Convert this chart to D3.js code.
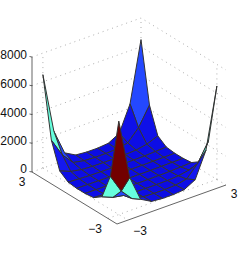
<!DOCTYPE html>
<html>
<head>
<meta charset="utf-8">
<script src="https://cdn.jsdelivr.net/npm/d3@7"></script>
<style>
  html, body {margin: 0; padding: 0; background: white;}
  svg {display: block;}
</style>
</head>
<body>
<div id="chart"></div>
<script>
// surface samples. rows = u, columns = v, both -3 .. 3
const grid_values = [-3, -2.33, -1.67, -1, -0.33, 0.33, 1, 1.67, 2.33, 3];
const z_values = [
  [6500, 2300, 520, 100, 30, 30, 100, 520, 2300, 6500],
  [2300, 1000, 210, 60, 20, 20, 60, 210, 1000, 2300],
  [520, 210, 70, 20, 10, 10, 20, 70, 210, 520],
  [100, 60, 20, 10, 0, 0, 10, 20, 60, 100],
  [30, 20, 10, 0, 0, 0, 0, 10, 20, 30],
  [30, 20, 10, 0, 0, 0, 0, 10, 20, 30],
  [100, 60, 20, 10, 0, 0, 10, 20, 60, 100],
  [520, 210, 70, 20, 10, 10, 20, 70, 210, 520],
  [2300, 1000, 210, 60, 20, 20, 60, 210, 1000, 2300],
  [6500, 2300, 520, 100, 30, 30, 100, 520, 2300, 6500]
];
const z_ticks = [0, 2000, 4000, 6000, 8000];
const color_stops = [0, 500, 1000, 2300, 6500];
const color_values = ["#0c0ce4", "#1416ee", "#2448ff", "#66ffdd", "#720000"];

const width = 249, height = 253;
const svg = d3.select("#chart").append("svg").attr("width", width).attr("height", height);

// corners of the box on the page
const left_corner = [32, 172], along_v = [109, -39], along_u = [85, 52], z_px = -115;
const u_scale = d3.scaleLinear().domain([3, -3]).range([0, 0.893]);
const v_scale = d3.scaleLinear().domain([-3, 3]).range([0.1, 1]);
const z_scale = d3.scaleLinear().domain([0, 8000]).range([0, 1]);
const color = d3.scaleLinear().domain(color_stops).range(color_values);

// a, b are box fractions
function box_point(a, b, c) {
  return [
    left_corner[0] + a * along_v[0] + b * along_u[0],
    left_corner[1] + a * along_v[1] + b * along_u[1] + c * z_px
  ];
}
function project(u, v, z) {
  return box_point(v_scale(v), u_scale(u), z_scale(z));
}

const line = d3.line();

function dotted(pts) {
  svg.append("path")
    .attr("d", line(pts))
    .attr("fill", "none")
    .attr("stroke", "#777")
    .attr("stroke-width", 0.6)
    .attr("stroke-dasharray", "1 4");
}

// back walls
z_ticks.forEach(t => {
  let c = z_scale(t);
  dotted([box_point(0, 0, c), box_point(1, 0, c), box_point(1, 1, c)]);
});
[v_scale(-3)].forEach(a => dotted([box_point(a, 0, 0), box_point(a, 0, 1)]));
dotted([box_point(1, 0, 0), box_point(1, 0, 1)]);
dotted([box_point(1, u_scale(-3), 0), box_point(1, u_scale(-3), 1)]);
// floor
dotted([box_point(v_scale(-3), 0, 0), box_point(v_scale(-3), 1, 0)]);
dotted([box_point(0, u_scale(-3), 0), box_point(1, u_scale(-3), 0)]);

// surface, far cells first
let cells = [];
d3.range(grid_values.length - 1).forEach(i => {
  d3.range(grid_values.length - 1).forEach(j => cells.push({i: i, j: j}));
});
cells.sort((p, q) => (q.i + q.j) - (p.i + p.j));

svg.selectAll(".cell")
  .data(cells)
  .enter()
  .append("path")
  .attr("class", "cell")
  .attr("d", d => {
    let corners = [[d.i, d.j], [d.i + 1, d.j], [d.i + 1, d.j + 1], [d.i, d.j + 1]];
    return line(corners.map(c => project(grid_values[c[0]], grid_values[c[1]], z_values[c[0]][c[1]]))) + "Z";
  })
  .attr("fill", d => color(z_values[d.i][d.j]))
  .attr("stroke", "#333")
  .attr("stroke-width", 1)
  .attr("stroke-linejoin", "round");

// solid axes
const axis_color = "#222";
svg.append("path")
  .attr("d", line([box_point(0, 0, 1), box_point(0, 0, 0), box_point(0, 1, 0), box_point(1, 1, 0)]))
  .attr("fill", "none")
  .attr("stroke", axis_color)
  .attr("stroke-width", 0.7);

z_ticks.forEach(t => {
  let p = box_point(0, 0, z_scale(t));
  svg.append("line")
    .attr("x1", p[0]).attr("y1", p[1])
    .attr("x2", p[0] - 2.5).attr("y2", p[1] - 0.5)
    .attr("stroke", axis_color).attr("stroke-width", 0.7);
  svg.append("text")
    .attr("x", 27)
    .attr("y", t === 0 ? p[1] - 2.5 : p[1] - 1)
    .attr("text-anchor", "end")
    .attr("dominant-baseline", "middle")
    .attr("font-family", "Liberation Sans")
    .attr("font-size", "12px")
    .attr("fill", "#111")
    .text(t);
});

const floor_labels = [
  {text: "3", x: 22, y: 183},
  {text: "\u22123", x: 95, y: 230},
  {text: "\u22123", x: 140, y: 232},
  {text: "3", x: 234, y: 195}
];
svg.selectAll(".floor_label")
  .data(floor_labels)
  .enter()
  .append("text")
  .attr("class", "floor_label")
  .attr("x", d => d.x)
  .attr("y", d => d.y)
  .attr("text-anchor", "middle")
  .attr("dominant-baseline", "middle")
  .attr("font-family", "Liberation Sans")
  .attr("font-size", "12px")
  .attr("fill", "#111")
  .text(d => d.text);
</script>
</body>
</html>
